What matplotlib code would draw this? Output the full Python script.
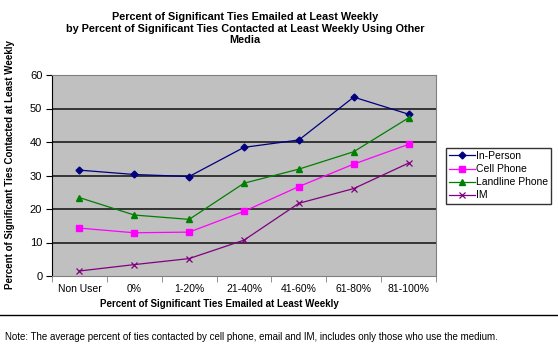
import matplotlib
matplotlib.use("Agg")
import matplotlib.pyplot as plt
import numpy as np

plt.rcParams['font.family'] = ['Liberation Sans', 'DejaVu Sans']

# Данные
categories = ["Non User", "0%", "1-20%", "21-40%", "41-60%", "61-80%", "81-100%"]
in_person = [31.6, 30.3, 29.7, 38.4, 40.6, 53.4, 48.3]
cell_phone = [14.3, 12.9, 13.1, 19.3, 26.7, 33.4, 39.3]
landline = [23.4, 18.2, 16.9, 27.7, 31.9, 37.1, 47.2]
im = [1.5, 3.4, 5.2, 10.7, 21.7, 26.1, 33.7]
series_names = ["In-Person", "Cell Phone", "Landline Phone", "IM"]

W, H = 558, 349
fig = plt.figure(figsize=(W / 100, H / 100), dpi=100)
# область построения в пикселях: x 52..436, y 75..276
ax = fig.add_axes([52 / W, 1 - 276 / H, (436 - 52) / W, (276 - 75) / H])
ax.set_facecolor('#C0C0C0')

x = np.arange(len(categories))
ax.plot(x, in_person, color='#000080', marker='D', markersize=3.5, lw=0.9, label=series_names[0])
ax.plot(x, cell_phone, color='#FF00FF', marker='s', markersize=4.5, lw=0.9, label=series_names[1])
ax.plot(x, landline, color='#008000', marker='^', markersize=5, lw=0.9, label=series_names[2])
ax.plot(x, im, color='#800080', marker='x', markersize=5, mew=0.9, lw=0.9, label=series_names[3])

ax.set_xlim(-0.5, len(categories) - 0.5)
ax.set_ylim(0, 60)
ax.set_yticks(range(0, 61, 10))
for v in range(10, 60, 10):
    ax.axhline(v, color='#2a2a2a', lw=1.3, zorder=0)

# метки категорий по центру, засечки на границах
ax.set_xticks(x)
ax.set_xticklabels(categories, fontsize=7.5)
ax.set_xticks(np.arange(-0.5, len(categories)), minor=True)
ax.tick_params(axis='x', which='major', length=0, pad=6)
ax.tick_params(axis='x', which='minor', length=4, direction='out', color='#808080')
ax.tick_params(axis='y', length=4, direction='out', labelsize=8, pad=3)

for side in ['top', 'right']:
    ax.spines[side].set_color('#808080')
ax.spines['left'].set_color('black')
ax.spines['bottom'].set_color('#808080')

fig.text(245 / W, 1 - 12 / H,
         "Percent of Significant Ties Emailed at Least Weekly\n"
         "by Percent of Significant Ties Contacted at Least Weekly Using Other\n"
         "Media", ha='center', va='top', fontsize=7.8, fontweight='bold', linespacing=1.2)
fig.text(219 / W, 1 - 304 / H, "Percent of Significant Ties Emailed at Least Weekly",
         ha='center', va='center', fontsize=7, fontweight='bold')
fig.text(10 / W, 1 - 165 / H, "Percent of Significant Ties Contacted at Least Weekly",
         ha='center', va='center', rotation=90, fontsize=7, fontweight='bold')

leg = fig.legend(loc='upper left', bbox_to_anchor=(446 / W, 1 - 148 / H), fontsize=7.5,
                 frameon=True, fancybox=False, edgecolor='black', handlelength=2.5,
                 borderpad=0.3, labelspacing=0.3, handletextpad=0.1, borderaxespad=0)
leg.get_frame().set_linewidth(1)

fig.add_artist(plt.Line2D([0, 1], [1 - 315 / H, 1 - 315 / H], color='black', lw=1))
fig.text(5 / W, 1 - 337 / H,
         "Note: The average percent of ties contacted by cell phone, email and IM, includes only those who use the medium.",
         ha='left', va='center', fontsize=7)

fig.savefig("out.png", dpi=100)
